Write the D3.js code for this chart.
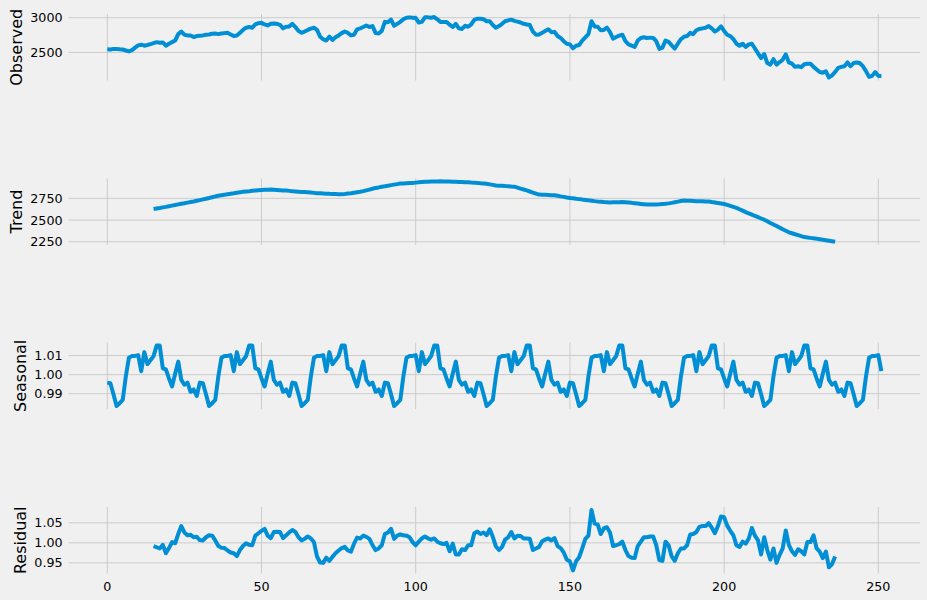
<!DOCTYPE html>
<html>
<head>
<meta charset="utf-8">
<title>Seasonal decomposition</title>
<script src="https://d3js.org/d3.v7.min.js"></script>
<style>
  body { margin: 0; background: #f0f0f0; }
  svg { display: block; font-family: "DejaVu Sans", sans-serif; }
  .grid { stroke: #cbcbcb; stroke-width: 1; }
  .series { fill: none; stroke: #008fd5; stroke-width: 4; stroke-linejoin: round; }
</style>
</head>
<body>
<svg width="927" height="600"></svg>
<script>
const observed = [
  2546, 2542, 2551, 2551, 2546, 2542, 2528, 2514, 2532, 2569,
  2602, 2611, 2597, 2607, 2620, 2634, 2648, 2639, 2644, 2597,
  2625, 2648, 2671, 2764, 2801, 2755, 2745, 2745, 2722, 2736,
  2741, 2745, 2755, 2759, 2769, 2773, 2764, 2773, 2778, 2782,
  2759, 2736, 2745, 2782, 2824, 2856, 2866, 2856, 2903, 2921,
  2926, 2903, 2889, 2912, 2917, 2912, 2898, 2847, 2870, 2875,
  2912, 2866, 2810, 2782, 2801, 2824, 2843, 2856, 2824, 2727,
  2690, 2671, 2727, 2681, 2718, 2745, 2778, 2801, 2782, 2745,
  2755, 2833, 2847, 2866, 2889, 2866, 2880, 2778, 2773, 2810,
  2940, 2935, 2972, 2884, 2912, 2940, 2977, 3000, 3005, 3000,
  2995, 2931, 2940, 3005, 3005, 3000, 3010, 2977, 2940, 2940,
  2940, 2900, 2866, 2912, 2847, 2838, 2884, 2870, 2903, 2968,
  2986, 2986, 2977, 2949, 2949, 2894, 2856, 2880, 2912, 2949,
  2963, 2972, 2954, 2944, 2931, 2912, 2903, 2894, 2801, 2755,
  2759, 2782, 2810, 2833, 2792, 2796, 2736, 2708, 2662, 2625,
  2616, 2560, 2597, 2607, 2671, 2718, 2764, 2949, 2875, 2870,
  2819, 2824, 2856, 2792, 2699, 2722, 2741, 2755, 2662, 2616,
  2597, 2579, 2671, 2708, 2718, 2708, 2713, 2708, 2662, 2551,
  2569, 2671, 2653, 2602, 2556, 2625, 2690, 2727, 2736, 2782,
  2764, 2819, 2838, 2847, 2856, 2880, 2847, 2801, 2829, 2875,
  2810, 2755, 2736, 2690, 2625, 2597, 2625, 2579, 2616, 2625,
  2556, 2486, 2417, 2477, 2347, 2324, 2403, 2324, 2361, 2394,
  2472, 2356, 2338, 2292, 2301, 2287, 2329, 2338, 2338, 2292,
  2255, 2218, 2208, 2227, 2139, 2171, 2218, 2278, 2292, 2301,
  2356, 2301, 2347, 2356, 2347, 2301, 2231, 2148, 2162, 2218,
  2162, 2162
];

const trend = [
  null, null, null, null, null, null, null, null, null, null,
  null, null, null, null, null,
  2627, 2633, 2639, 2646, 2652, 2659, 2666, 2673, 2681, 2688,
  2694, 2701, 2707, 2714, 2722, 2730, 2738, 2746, 2754, 2763,
  2772, 2780, 2786, 2792, 2798, 2803, 2808, 2814, 2819, 2825,
  2830, 2833, 2837, 2840, 2843, 2846, 2848, 2850, 2851, 2849,
  2847, 2844, 2841, 2839, 2836, 2833, 2830, 2827, 2824, 2822,
  2819, 2816, 2813, 2810, 2808, 2806, 2804, 2802, 2801, 2799,
  2797, 2798, 2801, 2805, 2808, 2814, 2820, 2826, 2833, 2842,
  2851, 2860, 2870, 2876, 2883, 2889, 2896, 2902, 2908, 2914,
  2920, 2922, 2924, 2926, 2928, 2931, 2934, 2937, 2940, 2942,
  2943, 2944, 2945, 2946, 2945, 2944, 2943, 2942, 2940, 2938,
  2937, 2935, 2934, 2932, 2931, 2928, 2924, 2921, 2917, 2911,
  2905, 2899, 2896, 2894, 2891, 2889, 2886, 2884, 2873, 2862,
  2852, 2841, 2829, 2817, 2805, 2793, 2791, 2790, 2789, 2787,
  2786, 2780, 2773, 2767, 2760, 2754, 2750, 2745, 2741, 2736,
  2732, 2727, 2723, 2718, 2714, 2711, 2708, 2706, 2703, 2704,
  2705, 2706, 2707, 2704, 2701, 2698, 2694, 2690, 2686, 2682,
  2678, 2678, 2678, 2678, 2681, 2685, 2688, 2692, 2698, 2705,
  2712, 2719, 2725, 2723, 2721, 2719, 2717, 2716, 2716, 2715,
  2714, 2708, 2703, 2697, 2691, 2685, 2674, 2663, 2652, 2641,
  2625, 2609, 2592, 2576, 2562, 2547, 2533, 2518, 2504, 2486,
  2467, 2449, 2431, 2413, 2395, 2377, 2359, 2348, 2337, 2326,
  2315, 2304, 2300, 2295, 2291, 2286, 2280, 2274, 2268, 2262,
  2256, 2250,
  null, null, null, null, null, null, null, null, null, null,
  null, null, null, null, null
];

// seasonal component repeats every 30 observations
const seasonal = [
  0.9958, 0.9955, 0.9897, 0.9835, 0.9850, 0.9867, 0.9990, 1.0088, 1.0097, 1.0098,
  1.0102, 1.0018, 1.0118, 1.0055, 1.0075, 1.0097, 1.0152, 1.0152, 1.0033, 1.0027,
  0.9980, 0.9938, 1.0005, 1.0068, 0.9972, 0.9947, 0.9958, 0.9910, 0.9922, 0.9888,
  0.9958, 0.9955, 0.9897, 0.9835, 0.9850, 0.9867, 0.9990, 1.0088, 1.0097, 1.0098,
  1.0102, 1.0018, 1.0118, 1.0055, 1.0075, 1.0097, 1.0152, 1.0152, 1.0033, 1.0027,
  0.9980, 0.9938, 1.0005, 1.0068, 0.9972, 0.9947, 0.9958, 0.9910, 0.9922, 0.9888,
  0.9958, 0.9955, 0.9897, 0.9835, 0.9850, 0.9867, 0.9990, 1.0088, 1.0097, 1.0098,
  1.0102, 1.0018, 1.0118, 1.0055, 1.0075, 1.0097, 1.0152, 1.0152, 1.0033, 1.0027,
  0.9980, 0.9938, 1.0005, 1.0068, 0.9972, 0.9947, 0.9958, 0.9910, 0.9922, 0.9888,
  0.9958, 0.9955, 0.9897, 0.9835, 0.9850, 0.9867, 0.9990, 1.0088, 1.0097, 1.0098,
  1.0102, 1.0018, 1.0118, 1.0055, 1.0075, 1.0097, 1.0152, 1.0152, 1.0033, 1.0027,
  0.9980, 0.9938, 1.0005, 1.0068, 0.9972, 0.9947, 0.9958, 0.9910, 0.9922, 0.9888,
  0.9958, 0.9955, 0.9897, 0.9835, 0.9850, 0.9867, 0.9990, 1.0088, 1.0097, 1.0098,
  1.0102, 1.0018, 1.0118, 1.0055, 1.0075, 1.0097, 1.0152, 1.0152, 1.0033, 1.0027,
  0.9980, 0.9938, 1.0005, 1.0068, 0.9972, 0.9947, 0.9958, 0.9910, 0.9922, 0.9888,
  0.9958, 0.9955, 0.9897, 0.9835, 0.9850, 0.9867, 0.9990, 1.0088, 1.0097, 1.0098,
  1.0102, 1.0018, 1.0118, 1.0055, 1.0075, 1.0097, 1.0152, 1.0152, 1.0033, 1.0027,
  0.9980, 0.9938, 1.0005, 1.0068, 0.9972, 0.9947, 0.9958, 0.9910, 0.9922, 0.9888,
  0.9958, 0.9955, 0.9897, 0.9835, 0.9850, 0.9867, 0.9990, 1.0088, 1.0097, 1.0098,
  1.0102, 1.0018, 1.0118, 1.0055, 1.0075, 1.0097, 1.0152, 1.0152, 1.0033, 1.0027,
  0.9980, 0.9938, 1.0005, 1.0068, 0.9972, 0.9947, 0.9958, 0.9910, 0.9922, 0.9888,
  0.9958, 0.9955, 0.9897, 0.9835, 0.9850, 0.9867, 0.9990, 1.0088, 1.0097, 1.0098,
  1.0102, 1.0018, 1.0118, 1.0055, 1.0075, 1.0097, 1.0152, 1.0152, 1.0033, 1.0027,
  0.9980, 0.9938, 1.0005, 1.0068, 0.9972, 0.9947, 0.9958, 0.9910, 0.9922, 0.9888,
  0.9958, 0.9955, 0.9897, 0.9835, 0.9850, 0.9867, 0.9990, 1.0088, 1.0097, 1.0098,
  1.0102, 1.0018
];

const residual = [
  null, null, null, null, null, null, null, null, null, null,
  null, null, null, null, null,
  0.992, 0.989, 0.986, 0.995, 0.974, 0.987, 1.002, 0.999, 1.022, 1.042,
  1.026, 1.019, 1.020, 1.014, 1.015, 1.007, 1.006, 1.014, 1.019, 1.018,
  1.006, 0.992, 0.988, 0.987, 0.981, 0.976, 0.974, 0.967, 0.982, 0.992,
  0.999, 0.995, 0.994, 1.018, 1.024, 1.030, 1.035, 1.018, 1.012, 1.027,
  1.028, 1.027, 1.012, 1.019, 1.026, 1.032, 1.027, 1.014, 1.006, 1.010,
  1.016, 1.011, 1.002, 0.966, 0.951, 0.950, 0.963, 0.955, 0.965, 0.974,
  0.981, 0.987, 0.990, 0.981, 0.978, 0.998, 1.013, 1.011, 1.018, 1.015,
  1.010, 0.994, 0.982, 0.986, 0.994, 1.022, 1.026, 1.035, 1.010, 1.018,
  1.021, 1.019, 1.018, 1.014, 1.002, 0.994, 1.003, 1.011, 1.016, 1.011,
  1.008, 1.011, 1.003, 0.999, 0.997, 1.000, 0.979, 0.998, 0.971, 0.971,
  0.984, 0.982, 0.994, 0.994, 1.024, 1.028, 1.022, 1.026, 1.019, 1.034,
  1.015, 0.991, 0.982, 0.990, 1.008, 1.014, 1.027, 1.011, 1.018, 1.017,
  1.011, 1.011, 1.010, 0.982, 0.986, 0.990, 1.004, 1.008, 1.011, 1.006,
  1.012, 0.992, 0.987, 0.976, 0.958, 0.954, 0.931, 0.954, 0.964, 0.986,
  1.010, 1.018, 1.082, 1.048, 1.046, 1.022, 1.036, 1.039, 1.026, 0.992,
  0.994, 0.997, 1.003, 0.982, 0.967, 0.963, 0.962, 0.992, 1.003, 1.014,
  1.014, 1.016, 1.016, 0.994, 0.957, 0.955, 1.003, 0.994, 0.966, 0.955,
  0.974, 0.986, 0.986, 0.994, 1.021, 1.022, 1.027, 1.040, 1.042, 1.042,
  1.049, 1.038, 1.024, 1.042, 1.066, 1.064, 1.043, 1.030, 1.019, 0.994,
  0.990, 1.003, 0.998, 1.011, 1.037, 1.018, 1.006, 0.971, 1.014, 0.982,
  0.958, 0.986, 0.950, 0.970, 0.986, 1.031, 0.995, 0.979, 0.970, 0.984,
  0.979, 0.971, 1.002, 1.002, 1.019, 0.986, 0.978, 0.962, 0.978, 0.939,
  0.947, 0.966,
  null, null, null, null, null, null, null, null, null, null,
  null, null, null, null, null
];

const xTicks = [0, 50, 100, 150, 200, 250];
const observedTicks = [2500, 3000];
const trendTicks = [2250, 2500, 2750];
const seasonalTicks = [0.99, 1.00, 1.01];
const residualTicks = [0.95, 1.00, 1.05];

const panels = [
  { label: "Observed", values: observed, ticks: observedTicks, fmt: d3.format("d") },
  { label: "Trend", values: trend, ticks: trendTicks, fmt: d3.format("d") },
  { label: "Seasonal", values: seasonal, ticks: seasonalTicks, fmt: d3.format(".2f") },
  { label: "Residual", values: residual, ticks: residualTicks, fmt: d3.format(".2f") }
];

const svg = d3.select("svg");
svg.append("rect").attr("width", 927).attr("height", 600).attr("fill", "#f0f0f0");

const left = 68.6, right = 920.1;
const tops = [14, 178.3, 342.6, 507];
const h = 66.5;

// shared x axis, matplotlib style 5% margins
const n = observed.length;
const xPad = (n - 1) * 0.05;
const x = d3.scaleLinear().domain([-xPad, n - 1 + xPad]).range([left, right]);

panels.forEach((p, k) => {
  const top = tops[k];
  const g = svg.append("g");
  const ext = d3.extent(p.values.filter(v => v != null));
  const pad = (ext[1] - ext[0]) * 0.05;
  const y = d3.scaleLinear().domain([ext[0] - pad, ext[1] + pad]).range([top + h, top]);

  // grid
  g.selectAll(".hgrid").data(p.ticks).enter().append("line")
    .attr("class", "grid")
    .attr("x1", left).attr("x2", right)
    .attr("y1", d => y(d)).attr("y2", d => y(d));
  g.selectAll(".vgrid").data(xTicks).enter().append("line")
    .attr("class", "grid")
    .attr("x1", d => x(d)).attr("x2", d => x(d))
    .attr("y1", top).attr("y2", top + h);

  // y tick labels
  const labels = g.selectAll(".ytick").data(p.ticks).enter().append("text")
    .attr("x", 62.6)
    .attr("y", d => y(d))
    .attr("dy", "0.36em")
    .attr("text-anchor", "end")
    .style("font-size", "12.7px")
    .attr("fill", "#000")
    .text(d => p.fmt(d));

  let maxW = 0;
  labels.each(function() { maxW = Math.max(maxW, this.getComputedTextLength()); });

  const lx = 62.6 - maxW - 8.7;
  g.append("text")
    .attr("transform", `translate(${lx},${top + h / 2}) rotate(-90)`)
    .attr("text-anchor", "middle")
    .style("font-size", "16px")
    .attr("fill", "#000")
    .text(p.label);

  const line = d3.line()
    .defined(d => d != null)
    .x((d, i) => x(i))
    .y(d => y(d));

  g.append("path")
    .datum(p.values)
    .attr("class", "series")
    .attr("d", line);

  if (k === panels.length - 1) {
    g.selectAll(".xtick").data(xTicks).enter().append("text")
      .attr("x", d => x(d))
      .attr("y", top + h + 17)
      .attr("text-anchor", "middle")
      .style("font-size", "12.7px")
      .attr("fill", "#000")
      .text(d => d);
  }
});
</script>
</body>
</html>
